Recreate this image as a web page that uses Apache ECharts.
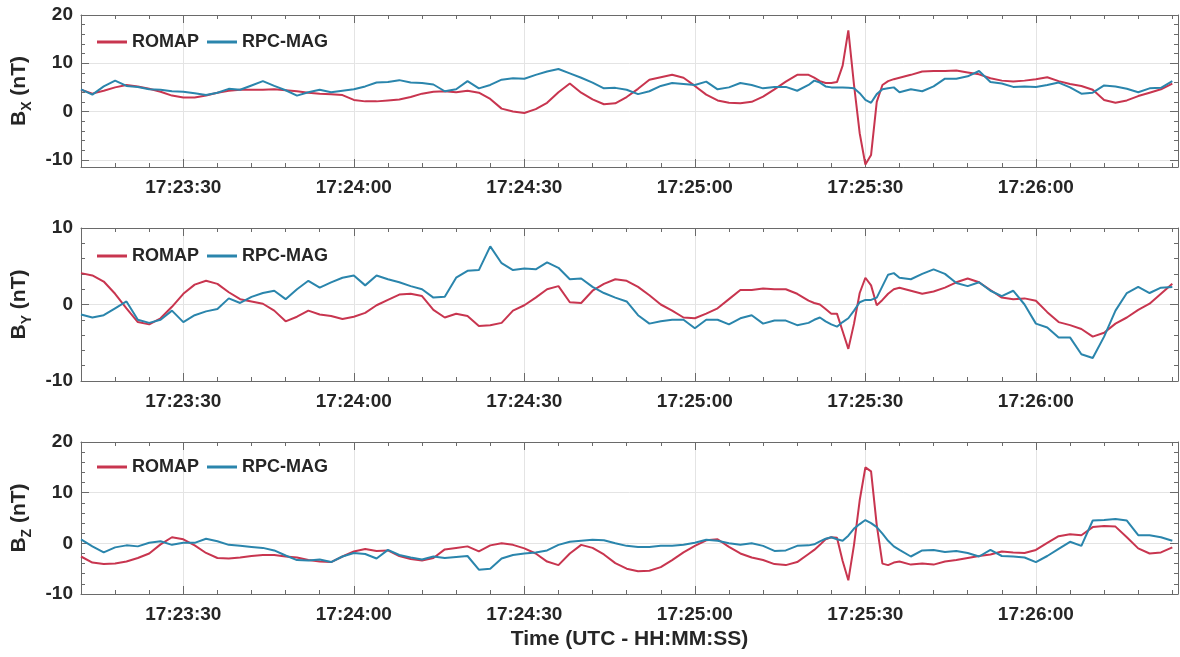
<!DOCTYPE html>
<html><head><meta charset="utf-8">
<script src="https://cdn.jsdelivr.net/npm/echarts@6/dist/echarts.min.js"></script>
<style>html,body{margin:0;padding:0;background:#fff}#c{width:1180px;height:657px}</style>
</head><body><div id="c"></div>
<script>
// sample times, seconds after 17:23:00 UTC
const secs = [12,14,16,18,20,22,24,26,28,30,32,34,36,38,40,42,44,46,48,50,52,54,56,58,60,62,64,66,68,70,72,74,76,78,80,82,84,86,88,90,92,94,96,98,100,102,104,106,108,110,112,114,116,118,120,122,124,126,128,130,132,134,136,138,140,
141,142,143,144,145,146,147,148,149,150,151,152,153,154,155,
156,158,160,162,164,166,168,170,172,174,176,178,180,182,184,186,188,190,192,194,196,198,200,202,204];

const bxRomap = [4.5,3.7,4.3,5.0,5.5,5.2,4.7,4.1,3.3,2.9, 2.9,3.3,3.9,4.3,4.5,4.5,4.5,4.6,4.4,4.2, 3.9,3.7,3.6,3.4,2.4,2.1,2.1,2.3,2.5,3.0, 3.7,4.1,4.2,4.0,4.3,3.9,2.6,0.6,0.0,-0.3, 0.5,1.8,4.0,5.8,3.9,2.5,1.5,1.7,3.0,4.7, 6.6,7.1,7.6,7.0,5.3,3.5,2.3,1.8,1.7,2.0, 3.1,4.6,6.2,7.6,7.6,
7.0,6.3,5.9,5.9,6.1,9.5,16.8,5.5,-4.5,-11.0,-9.0,2.0,5.5,6.3,6.7,
7.0,7.6,8.3,8.4,8.4,8.5,8.1,7.7,6.9,6.4, 6.2,6.4,6.7,7.1,6.3,5.7,5.3,4.5,2.4,1.8, 2.3,3.2,3.9,4.6,5.8];
const bxRpc = [4.6,3.5,5.2,6.4,5.3,5.1,4.6,4.5,4.2,4.1, 3.8,3.4,3.9,4.7,4.5,5.4,6.3,5.3,4.4,3.3, 4.0,4.5,4.0,4.3,4.6,5.2,6.0,6.1,6.5,6.0, 5.9,5.6,4.2,4.6,6.3,4.8,5.5,6.6,6.9,6.8, 7.6,8.3,8.8,7.9,7.0,6.0,4.8,4.9,4.5,3.6, 4.2,5.3,5.9,5.7,5.5,6.2,4.6,5.0,5.9,5.5, 4.8,5.1,5.1,4.3,5.5,
6.4,6.0,5.2,5.0,5.0,5.0,4.9,4.8,3.8,2.4,1.8,3.6,4.6,4.8,5.0,
4.0,4.6,4.2,5.2,6.8,6.8,7.3,8.4,6.1,5.8, 5.1,5.2,5.1,5.5,6.0,5.0,3.7,3.9,5.4,5.2, 4.7,4.0,4.8,4.9,6.3];
const byRomap = [4.1,3.8,3.0,1.4,-0.5,-2.3,-2.6,-1.8,-0.3,1.4, 2.6,3.1,2.7,1.6,0.7,0.4,0.1,-0.8,-2.2,-1.6, -0.8,-1.3,-1.5,-1.9,-1.6,-1.1,-0.1,0.6,1.3,1.4, 1.1,-0.7,-1.7,-1.2,-1.5,-2.8,-2.7,-2.4,-0.8,-0.1, 0.9,2.0,2.4,0.3,0.2,1.8,2.7,3.3,3.1,2.3, 1.2,0.0,-0.8,-1.7,-1.8,-1.2,-0.5,0.7,1.9,1.9, 2.1,2.0,2.0,1.4,0.5,
0.2,0.0,-0.6,-1.2,-1.2,-3.5,-5.8,-2.5,1.5,3.5,2.5,-0.1,0.6,1.4,2.0,
2.2,1.8,1.4,1.7,2.2,2.9,3.4,2.9,1.9,0.9, 0.7,0.8,0.5,-1.0,-2.3,-2.7,-3.2,-4.2,-3.7,-2.5, -1.7,-0.7,0.1,1.4,2.7];
const byRpc = [-1.3,-1.7,-1.4,-0.5,0.4,-2.0,-2.4,-2.0,-0.8,-2.3, -1.4,-0.9,-0.6,0.8,0.2,1.0,1.5,1.8,0.7,2.0, 3.1,2.2,2.9,3.5,3.8,2.5,3.8,3.3,2.9,2.4, 2.0,0.9,1.0,3.5,4.4,4.5,7.6,5.4,4.5,4.7, 4.6,5.5,4.8,3.3,3.4,2.3,1.5,0.9,0.4,-1.4, -2.5,-2.2,-2.0,-2.0,-3.1,-2.0,-2.0,-2.6,-1.8,-1.4, -2.5,-2.1,-2.1,-2.7,-2.4,
-2.0,-1.7,-2.2,-2.6,-2.9,-2.3,-1.8,-0.8,0.3,0.6,0.6,0.9,2.4,3.9,4.1,
3.5,3.3,4.0,4.6,4.0,2.8,2.4,2.9,1.8,1.1, 1.8,0.0,-2.5,-3.0,-4.3,-4.3,-6.5,-7.0,-4.2,-0.8, 1.5,2.3,1.5,2.2,2.3];
const bzRomap = [-2.6,-3.8,-4.1,-4.0,-3.6,-2.9,-2.0,-0.2,1.2,0.8, -0.4,-1.9,-2.9,-3.0,-2.8,-2.5,-2.3,-2.3,-2.6,-2.8, -3.3,-3.6,-3.7,-2.6,-1.6,-1.1,-1.5,-1.4,-2.5,-3.1, -3.4,-2.9,-1.2,-0.9,-0.6,-1.6,-0.4,0.0,-0.3,-1.0, -2.0,-3.6,-4.3,-2.0,-0.3,-0.9,-2.2,-3.9,-5.0,-5.5, -5.4,-4.7,-3.3,-1.8,-0.5,0.6,0.8,-0.7,-2.0,-2.8, -3.3,-4.1,-4.3,-3.7,-2.1,
-1.3,-0.3,0.8,1.2,1.1,-3.5,-7.3,-0.3,8.5,15.0,14.2,3.6,-4.0,-4.3,-3.8,
-3.6,-4.2,-4.0,-4.2,-3.6,-3.3,-2.9,-2.5,-2.2,-1.6, -1.8,-1.9,-1.3,0.1,1.4,1.8,1.6,3.2,3.4,3.3, 1.2,-1.0,-2.0,-1.8,-0.8];
const bzRpc = [0.8,-0.6,-1.8,-0.8,-0.4,-0.6,0.1,0.4,-0.3,0.1, 0.1,0.9,0.4,-0.3,-0.5,-0.7,-0.9,-1.4,-2.4,-3.3, -3.4,-3.2,-3.7,-2.6,-1.9,-2.1,-3.0,-1.3,-2.3,-2.8, -3.2,-2.6,-2.9,-2.7,-2.5,-5.2,-5.0,-3.0,-2.3,-2.0, -1.8,-1.4,-0.3,0.3,0.5,0.7,0.6,0.0,-0.5,-0.7, -0.7,-0.5,-0.5,-0.3,0.1,0.7,0.5,0.0,-0.3,0.0, -0.5,-1.5,-1.4,-0.5,-0.4,
-0.2,0.4,0.9,1.2,0.8,0.5,1.5,2.9,3.8,4.6,4.0,3.2,1.9,0.5,-0.6,
-1.3,-2.6,-1.4,-1.3,-1.7,-1.5,-1.9,-2.6,-1.3,-2.5, -2.6,-2.8,-3.7,-2.5,-1.1,0.3,-0.5,4.5,4.6,4.8, 4.5,1.6,1.6,1.2,0.5];

const seriesNames = ['ROMAP', 'RPC-MAG'];
const componentLetters = ['X', 'Y', 'Z'];
const timeRange = [12, 205];          // seconds after 17:23:00
const yRanges = [[-11.5, 20], [-10, 10], [-10, 20]];
const xLabel = 'Time (UTC - HH:MM:SS)';

// layout / style
const layout = [{top: 15, height: 152, legendTop: 28}, {top: 228, height: 153, legendTop: 242}, {top: 442, height: 152, legendTop: 453}];
const COLORS = ['#C8354F', '#2A85AC'];
const AX = '#6a6a6a', GRID = '#e4e4e4', TXT = '#262626';
const FF = '"Liberation Sans", Arial, Helvetica, sans-serif';

function fmtTime(v) {
  const m = 23 + Math.floor(v / 60), s = Math.round(v % 60);
  return '17:' + String(m).padStart(2, '0') + ':' + String(s).padStart(2, '0');
}

const panelData = [[bxRomap, bxRpc], [byRomap, byRpc], [bzRomap, bzRpc]];
const grids = [], xAxes = [], yAxes = [], series = [], legends = [];

layout.forEach((L, g) => {
  grids.push({left: 81, right: 2, top: L.top, height: L.height, containLabel: false});
  const tickCommon = {show: true, inside: true, length: 8, lineStyle: {color: AX, width: 1}};
  const minorCommon = {show: true, splitNumber: 5, length: 4, lineStyle: {color: AX, width: 1}};
  ['bottom', 'top'].forEach(pos => {
    const isBottom = pos === 'bottom';
    const ax = {
      type: 'value', gridIndex: g, position: pos,
      min: timeRange[0], max: timeRange[1], splitNumber: 6, minInterval: 30, maxInterval: 30,
      axisLine: {show: true, onZero: false, lineStyle: {color: AX, width: 1}},
      axisTick: tickCommon, minorTick: minorCommon,
      splitLine: {show: isBottom, lineStyle: {color: GRID, width: 1}},
      axisLabel: {show: isBottom, showMinLabel: false, showMaxLabel: false, margin: 11,
        fontSize: 19, fontWeight: 'bold', color: TXT, fontFamily: FF, formatter: fmtTime},
      axisPointer: {show: false}
    };
    if (isBottom && g === 2) {
      ax.name = xLabel; ax.nameLocation = 'middle'; ax.nameGap = 35;
      ax.nameTextStyle = {fontSize: 21, fontWeight: 'bold', color: TXT, fontFamily: FF};
    }
    xAxes.push(ax);
  });
  ['left', 'right'].forEach(pos => {
    const isLeft = pos === 'left';
    const ay = {
      type: 'value', gridIndex: g, position: pos,
      min: yRanges[g][0], max: yRanges[g][1], splitNumber: 3, minInterval: 10, maxInterval: 10,
      axisLine: {show: true, onZero: false, lineStyle: {color: AX, width: 1}},
      axisTick: tickCommon, minorTick: minorCommon,
      splitLine: {show: isLeft, lineStyle: {color: GRID, width: 1}},
      axisLabel: {show: isLeft, showMinLabel: g !== 0, margin: 8,
        fontSize: 19, fontWeight: 'bold', color: TXT, fontFamily: FF}
    };
    if (isLeft) {
      ay.name = '{b|B}{s|' + componentLetters[g] + '}{b| (nT)}';
      ay.nameLocation = 'middle'; ay.nameGap = 44;
      ay.nameTextStyle = {
        rich: {
          b: {fontSize: 21, fontWeight: 'bold', color: TXT, fontFamily: FF, lineHeight: 30, verticalAlign: 'middle'},
          s: {fontSize: 14, fontWeight: 'bold', color: TXT, fontFamily: FF, lineHeight: 14, verticalAlign: 'bottom'}
        }
      };
    }
    yAxes.push(ay);
  });
  panelData[g].forEach((arr, k) => {
    series.push({
      type: 'line', name: seriesNames[k], xAxisIndex: 2 * g, yAxisIndex: 2 * g,
      data: secs.map((t, i) => [t, arr[i]]),
      symbol: 'none', showSymbol: false, clip: true,
      lineStyle: {width: 2, color: COLORS[k]}, itemStyle: {color: COLORS[k]},
      z: 2 + k
    });
  });
  legends.push({
    left: 92, top: L.legendTop, orient: 'horizontal', icon: 'rect',
    itemWidth: 30, itemHeight: 3, itemGap: 8, selectedMode: false,
    textStyle: {fontSize: 18, fontWeight: 'bold', color: TXT, fontFamily: FF},
    data: seriesNames
  });
});

const chart = echarts.init(document.getElementById('c'), null, {renderer: 'canvas'});
chart.setOption({
  animation: false,
  backgroundColor: '#fff',
  color: COLORS,
  grid: grids, xAxis: xAxes, yAxis: yAxes, legend: legends, series: series,
  tooltip: {show: false}
});
</script></body></html>
